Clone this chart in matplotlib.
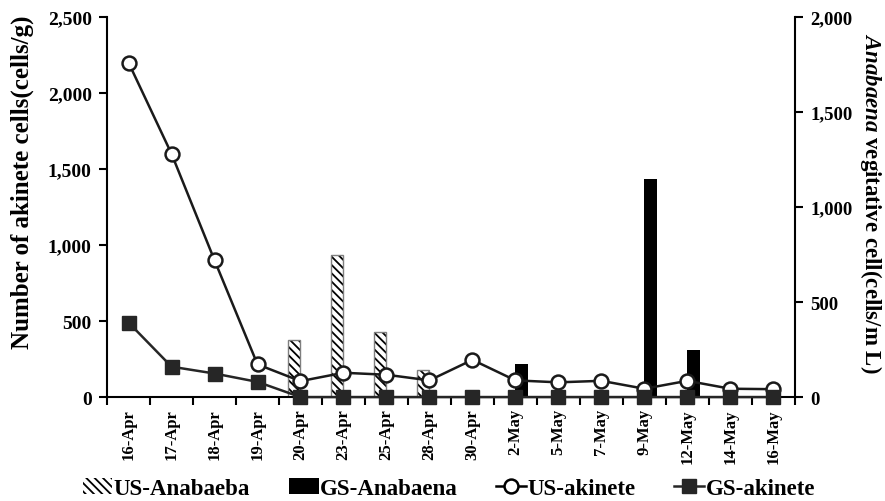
import matplotlib
matplotlib.use('Agg')
import matplotlib.pyplot as plt
from matplotlib.ticker import FuncFormatter
from matplotlib.patches import Patch
from matplotlib.lines import Line2D
import numpy as np

plt.rcParams['font.family'] = ['Liberation Serif', 'DejaVu Serif']
plt.rcParams['font.weight'] = 'bold'
plt.rcParams['mathtext.fontset'] = 'custom'
plt.rcParams['mathtext.it'] = 'Liberation Serif:italic'
plt.rcParams['hatch.linewidth'] = 1.3

dates = ['16-Apr', '17-Apr', '18-Apr', '19-Apr', '20-Apr', '23-Apr', '25-Apr', '28-Apr',
         '30-Apr', '2-May', '5-May', '7-May', '9-May', '12-May', '14-May', '16-May']

# akinete (left axis, cells/g)
us_akinete = [2200, 1600, 900, 215, 105, 160, 147, 110, 245, 110, 97, 107, 55, 107, 55, 52]
gs_akinete = [490, 200, 155, 100, 0, 0, 0, 0, 0, 0, 0, 0, 0, 0, 0, 0]

# vegetative cells (right axis, cells/mL)
us_anabaena = [0, 0, 0, 0, 300, 750, 340, 142, 0, 0, 0, 0, 0, 0, 0, 0]
gs_anabaena = [0, 0, 0, 0, 0, 0, 0, 0, 0, 175, 0, 0, 1150, 250, 0, 0]

x = np.arange(len(dates))
w = 0.29

fig = plt.figure(figsize=(8.85, 5.02), dpi=100)
ax = fig.add_axes([0.121, 0.207, 0.777, 0.757])
ax2 = ax.twinx()

# bars on the right axis
ax2.bar(x - w / 2, us_anabaena, w, color='white', edgecolor='black', hatch='\\\\\\\\', linewidth=0)
ax2.bar(x - w / 2, us_anabaena, w, fill=False, edgecolor='#7f7f7f', linewidth=1)
ax2.bar(x + w / 2, gs_anabaena, w, color='black', linewidth=0)

# lines on the left axis, drawn above the bars
ax.set_zorder(ax2.get_zorder() + 1)
ax.patch.set_visible(False)
ax.plot(x, us_akinete, color='#1a1a1a', lw=1.8, marker='o', ms=10, mfc='white',
        mec='#1a1a1a', mew=1.8, clip_on=False, zorder=3)
ax.plot(x, gs_akinete, color='#262626', lw=1.8, marker='s', ms=10, mfc='#262626',
        mec='#262626', clip_on=False, zorder=4)

ax.set_xlim(-0.5, len(dates) - 0.5)
ax.set_ylim(0, 2500)
ax2.set_ylim(0, 2000)
ax.set_yticks(np.arange(0, 2501, 500))
ax2.set_yticks(np.arange(0, 2001, 500))
fmt = FuncFormatter(lambda v, p: f'{int(v):,}')
ax.yaxis.set_major_formatter(fmt)
ax2.yaxis.set_major_formatter(fmt)

ax.set_xticks(x)
ax.set_xticklabels(dates, rotation=90, fontsize=12, fontweight='bold')
ax.set_xticks(np.arange(-0.5, len(dates), 1), minor=True)
ax.tick_params(axis='x', which='major', length=0, pad=8)
ax.tick_params(axis='x', which='minor', length=6, width=1.5, direction='out')
ax.tick_params(axis='y', length=6, width=1.5, labelsize=14, pad=5)
ax2.tick_params(axis='y', length=6, width=1.5, labelsize=13.5, pad=5)

for s in ['top', 'right']:
    ax.spines[s].set_visible(False)
for s in ['top', 'left', 'bottom']:
    ax2.spines[s].set_visible(False)
ax.spines['left'].set_linewidth(1.5)
ax.spines['bottom'].set_linewidth(1.5)
ax2.spines['right'].set_linewidth(1.5)

fig.text(22 / 885, 1 - 182 / 502, 'Number of akinete cells(cells/g)', fontsize=18,
         fontweight='bold', rotation=90, ha='center', va='center')
fig.text(871 / 885, 1 - 203 / 502, r'$Anabaena$ vegitative cell(cells/m L)', fontsize=16.5,
         fontweight='bold', rotation=270, ha='center', va='center')

handles = [
    Patch(facecolor='white', edgecolor='black', hatch='\\\\\\\\', linewidth=0),
    Patch(facecolor='black'),
    Line2D([], [], color='black', lw=1.8, marker='o', ms=10, mfc='white', mew=1.8),
    Line2D([], [], color='#262626', lw=1.8, marker='s', ms=10),
]
labels = ['US-Anabaeba', 'GS-Anabaena', 'US-akinete', 'GS-akinete']
fig.legend(handles, labels, loc='center', bbox_to_anchor=(0.507, 0.025), ncol=4,
           frameon=False, prop={'size': 16.5, 'weight': 'bold'}, handlelength=1.3,
           handletextpad=0.05, columnspacing=1.7)

fig.savefig('out.png', dpi=100)
